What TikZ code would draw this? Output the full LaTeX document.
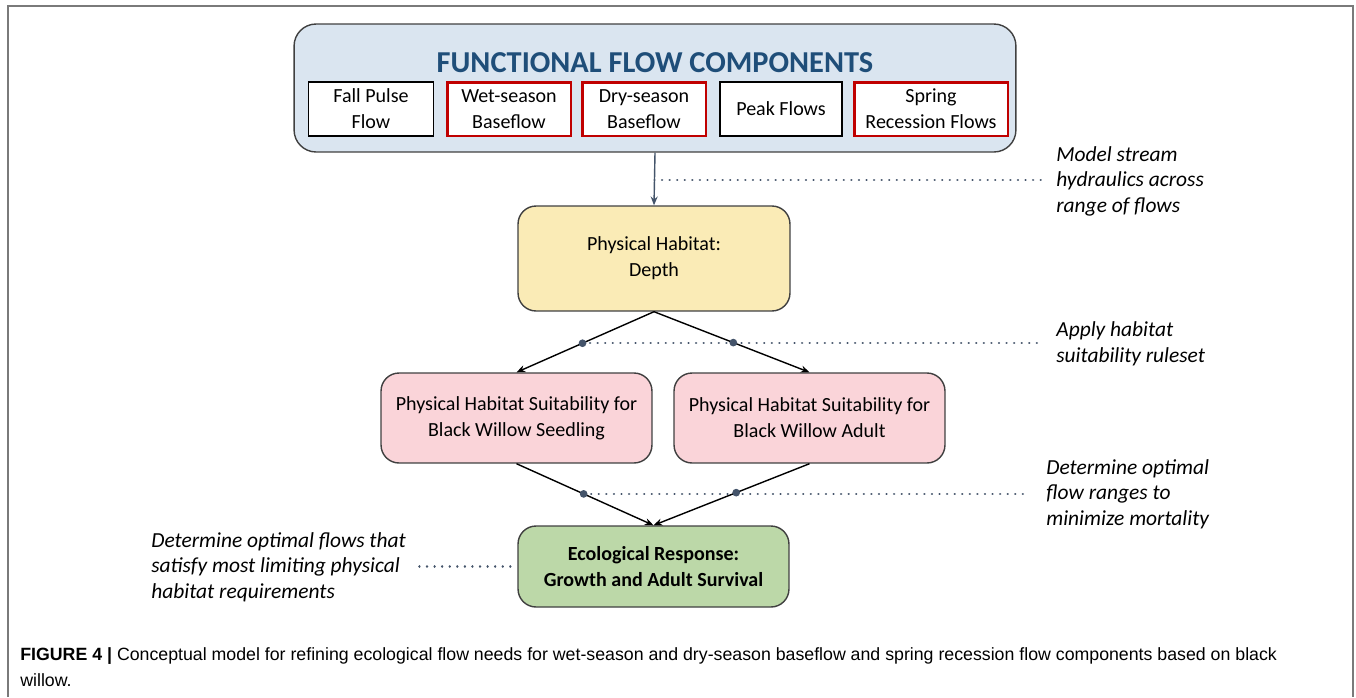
\documentclass[tikz,border=0pt]{standalone}
\usepackage{fontspec}
\setmainfont{Carlito}
\newfontfamily\capfont{Liberation Sans}
\usetikzlibrary{arrows.meta}

\definecolor{framegray}{HTML}{7A7A7A}
\definecolor{boxline}{HTML}{404040}
\definecolor{compfill}{HTML}{DAE5F0}
\definecolor{titleblue}{HTML}{1F4E79}
\definecolor{flowred}{HTML}{C00000}
\definecolor{depthfill}{HTML}{FAEBB6}
\definecolor{suitfill}{HTML}{FAD4D9}
\definecolor{ecofill}{HTML}{BCD8A8}
\definecolor{slate}{HTML}{44546A}

\tikzset{
  box/.style={draw=boxline, line width=0.8pt, rounded corners=0.36cm, align=center,
    inner sep=0pt, font=\fontsize{11.4}{14.7}\selectfont},
  flowbox/.style={draw=black, line width=0.8pt, fill=white, align=center, inner sep=0pt,
    minimum height=1.08cm, font=\fontsize{11.4}{14.7}\selectfont},
  keybox/.style={flowbox, draw=flowred, line width=1.7pt},
  note/.style={anchor=west, align=left, inner sep=0pt,
    font=\fontsize{12.2}{14.5}\selectfont\itshape},
  guide/.style={slate, line width=1.4pt, line cap=round, dash pattern=on 0.01pt off 4.3pt},
  link/.style={black, line width=0.8pt, -{Stealth[length=5pt,width=4pt]}},
  knot/.style={circle, fill=slate, inner sep=0pt, minimum size=4.4pt}
}

\begin{document}
\begin{tikzpicture}[x=0.02cm,y=-0.02cm]
\useasboundingbox (0,0) rectangle (1356,697);
\draw[framegray, line width=1.2pt] (8,697) -- (8,6) -- (1353,6) -- (1353,697); %frame

%functional flow components
\node[box, fill=compfill, minimum width=14.44cm, minimum height=2.56cm, rounded corners=0.44cm] (comp) at (655,88) {};
\node[font=\fontsize{17.3}{18}\selectfont\bfseries, text=titleblue] (title) at (655,63) {FUNCTIONAL FLOW COMPONENTS};
\node[flowbox, minimum width=2.5cm] (fall) at (371,109) {Fall Pulse\\Flow};
\node[keybox, minimum width=2.48cm] (wet) at (509,109) {Wet-season\\Baseflow};
\node[keybox, minimum width=2.48cm] (dry) at (644,109) {Dry-season\\Baseflow};
\node[flowbox, minimum width=2.44cm] (peak) at (781,109) {Peak Flows};
\node[keybox, minimum width=3.08cm] (spring) at (931,109) {Spring\\Recession Flows};

%habitat boxes
\node[box, fill=depthfill, minimum width=5.44cm, minimum height=2.1cm] (depth) at (654,258.5) {Physical Habitat:\\Depth};
\node[box, fill=suitfill, minimum width=5.42cm, minimum height=1.8cm] (seedling) at (516.5,418) {Physical Habitat Suitability for\\Black Willow Seedling};
\node[box, fill=suitfill, minimum width=5.42cm, minimum height=1.8cm] (adult) at (809.5,418) {Physical Habitat Suitability for\\Black Willow Adult};
\node[box, fill=ecofill, minimum width=5.42cm, minimum height=1.62cm, font=\fontsize{11.4}{14.7}\selectfont\bfseries] (eco) at (653.5,566.5) {Ecological Response:\\Growth and Adult Survival};

%notes
\node[note] (hydro) at (1056,181) {Model stream\\hydraulics across\\range of flows};
\node[note] (rules) at (1056,344) {Apply habitat\\suitability ruleset};
\node[note] (ranges) at (1046,494) {Determine optimal\\flow ranges to\\minimize mortality};
\node[note] (limits) at (151,567) {Determine optimal flows that\\satisfy most limiting physical\\habitat requirements};

%connectors
\draw[slate, line width=0.8pt, -{Stealth[length=5pt,width=4pt]}] (comp.south) -- coordinate[pos=0.52] (h1) (depth.north);
\draw[link] (depth.south) -- coordinate[pos=0.52] (s1) (seedling.north);
\draw[link] (depth.south) -- coordinate[pos=0.51] (a1) (adult.north);
\draw[link] (seedling.south) -- coordinate[pos=0.49] (s2) (eco.north);
\draw[link] (adult.south) -- coordinate[pos=0.47] (a2) (eco.north);

%guides to notes
\draw[guide] (h1) -- ([xshift=-0.28cm]h1 -| hydro.west);
\draw[guide] (s1) -- ([xshift=-0.32cm]s1 -| rules.west);
\draw[guide] (s2) -- ([xshift=-0.32cm]s2 -| ranges.west);
\draw[guide] ([xshift=-0.14cm]eco.west) -- ([xshift=-2.04cm]eco.west);
\node[knot] (s1dot) at (s1) {};
\node[knot] (a1dot) at (a1) {};
\node[knot] (s2dot) at (s2) {};
\node[knot] (a2dot) at (a2) {};

%caption
\node[anchor=north west, align=left, inner sep=0pt, font=\capfont\fontsize{10.1}{14.7}\selectfont] (caption) at (20,647)
  {\textbf{FIGURE 4 |} Conceptual model for refining ecological flow needs for wet-season and dry-season baseflow and spring recession flow components based on black\\willow.};
\end{tikzpicture}
\end{document}
